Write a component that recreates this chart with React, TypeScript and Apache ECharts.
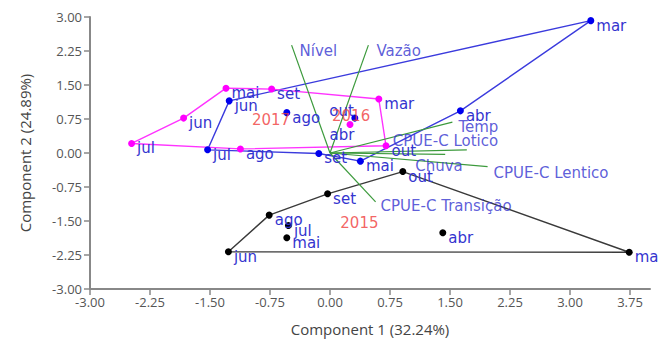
import React, { useEffect, useRef } from 'react';
import * as echarts from 'echarts';

// Month observations (same order for every year)
const months = ['mar', 'abr', 'mai', 'jun', 'jul', 'ago', 'set', 'out'];

// 2015 (black)
const x2015 = [3.74, 1.41, -0.54, -1.27, -0.52, -0.76, -0.03, 0.91];
const y2015 = [-2.19, -1.76, -1.87, -2.18, -1.6, -1.37, -0.9, -0.41];
const hull2015 = ['jun', 'ago', 'set', 'out', 'mar', 'jun'];

// 2016 (blue)
const x2016 = [3.26, 1.63, 0.38, -1.26, -1.53, -0.54, -0.14, 0.31];
const y2016 = [2.92, 0.93, -0.18, 1.15, 0.07, 0.89, -0.01, 0.77];
const hull2016 = ['jul', 'jun', 'mar', 'abr', 'mai', 'set', 'jul'];

// 2017 (magenta)
const x2017 = [0.61, 0.25, -1.3, -1.83, -2.48, -1.12, -0.73, 0.7];
const y2017 = [1.19, 0.63, 1.43, 0.77, 0.21, 0.09, 1.41, 0.16];
const hull2017 = ['jul', 'jun', 'mai', 'set', 'mar', 'out', 'ago', 'jul'];

// Variable loadings (biplot vectors)
const varNames = ['Nível', 'Vazão', 'Temp', 'CPUE-C Lotico', 'Chuva', 'CPUE-C Lentico', 'CPUE-C Transição'];
const varX = [-0.48, 0.48, 1.53, 1.71, 1.44, 1.97, 0.57];
const varY = [2.38, 2.38, 0.68, 0.07, -0.03, -0.3, -1.08];

// Axis ticks
const xTicks = [-3, -2.25, -1.5, -0.75, 0, 0.75, 1.5, 2.25, 3, 3.75];
const yTicks = [-3, -2.25, -1.5, -0.75, 0, 0.75, 1.5, 2.25, 3];

// label placement tweaks (px)
const varLabelOffsets: number[][] = [[8, 6], [8, 6], [6, 5], [-74, -9], [-30, 12], [6, 6.5], [5, 4]];
const pointLabelShift: Record<string, number[]> = {
  '2016-out': [-31, -7],
  '2017-abr': [-26, 10.7],
};

const TEXT_BLUE = '#3434cf';
const FONT = 'DejaVu Sans';

export default function App() {
  const ref = useRef<HTMLDivElement>(null);

  useEffect(() => {
    const chart = echarts.init(ref.current!, null, { renderer: 'svg' });

    const groups = [
      { year: '2015', xs: x2015, ys: y2015, hull: hull2015, dot: '#000000', line: '#3a3a3a' },
      { year: '2016', xs: x2016, ys: y2016, hull: hull2016, dot: '#0000ee', line: '#3b3bdd' },
      { year: '2017', xs: x2017, ys: y2017, hull: hull2017, dot: '#ff00ff', line: '#ff33ff' },
    ];

    const series: any[] = [];

    groups.forEach((g) => {
      series.push({
        type: 'line',
        data: g.hull.map((m) => {
          const i = months.indexOf(m);
          return [g.xs[i], g.ys[i]];
        }),
        showSymbol: false,
        symbol: 'none',
        lineStyle: { color: g.line, width: 1.4 },
        z: 2,
        silent: true,
      });
    });

    series.push({
      type: 'lines',
      coordinateSystem: 'cartesian2d',
      data: varNames.map((n, i) => ({ coords: [[0, 0], [varX[i], varY[i]]] })),
      lineStyle: { color: '#3c9a3c', width: 1.2, opacity: 1 },
      z: 3,
      silent: true,
    });

    groups.forEach((g) => {
      series.push({
        type: 'scatter',
        symbolSize: 7,
        itemStyle: { color: g.dot, opacity: 1 },
        z: 5,
        data: months.map((m, i) => {
          const sh = pointLabelShift[g.year + '-' + m] || [0, 5];
          return { name: m, value: [g.xs[i], g.ys[i]], label: { offset: sh } };
        }),
        label: {
          show: true,
          position: 'right',
          distance: 2,
          formatter: (p: any) => p.name,
          color: TEXT_BLUE,
          fontFamily: FONT,
          fontSize: 15,
        },
      });
    });

    // year labels at group centroids
    series.push({
      type: 'scatter',
      symbolSize: 0,
      z: 6,
      data: groups.map((g) => {
        const cx = g.xs.reduce((a, b) => a + b, 0) / g.xs.length;
        const cy = g.ys.reduce((a, b) => a + b, 0) / g.ys.length;
        return { name: g.year, value: [cx, cy] };
      }),
      label: {
        show: true,
        position: 'inside',
        formatter: (p: any) => p.name,
        color: '#f03c3c',
        fontFamily: FONT,
        fontSize: 15,
      },
    });

    // variable labels
    series.push({
      type: 'scatter',
      symbolSize: 0,
      z: 6,
      data: varNames.map((n, i) => ({
        name: n,
        value: [varX[i], varY[i]],
        label: { offset: varLabelOffsets[i] },
      })),
      label: {
        show: true,
        position: 'right',
        distance: 0,
        formatter: (p: any) => p.name,
        color: TEXT_BLUE,
        fontFamily: FONT,
        fontSize: 15,
      },
    });

    chart.setOption({
      animation: false,
      backgroundColor: '#ffffff',
      grid: { left: 90, right: 9, top: 17, bottom: 55 },
      xAxis: {
        type: 'value',
        min: -3,
        max: 4,
        interval: 0.75,
        name: 'Component 1 (32.24%)',
        nameLocation: 'middle',
        nameGap: 32,
        nameTextStyle: { color: '#444', fontFamily: 'Open Sans', fontSize: 15 },
        axisLine: { show: true, onZero: false, lineStyle: { color: '#888', width: 2 } },
        axisTick: { show: true, length: 6, customValues: xTicks, lineStyle: { color: '#888', width: 1.5 } },
        axisLabel: {
          customValues: xTicks,
          formatter: (v: number) => v.toFixed(2),
          color: '#555',
          fontFamily: 'Open Sans',
          fontSize: 13,
          margin: 6,
        },
        splitLine: { show: false },
      },
      yAxis: {
        type: 'value',
        min: -3,
        max: 3,
        interval: 0.75,
        name: 'Component 2 (24.89%)',
        nameLocation: 'middle',
        nameGap: 58,
        nameTextStyle: { color: '#444', fontFamily: 'Open Sans', fontSize: 15 },
        axisLine: { show: true, onZero: false, lineStyle: { color: '#888', width: 2 } },
        axisTick: { show: true, length: 6, customValues: yTicks, lineStyle: { color: '#888', width: 1.5 } },
        axisLabel: {
          customValues: yTicks,
          formatter: (v: number) => v.toFixed(2),
          color: '#555',
          fontFamily: 'Open Sans',
          fontSize: 13,
          margin: 8,
        },
        splitLine: { show: false },
      },
      series,
    });

    return () => chart.dispose();
  }, []);

  return (
    <div
      ref={ref}
      style={{ position: 'fixed', left: 0, top: 0, width: 659, height: 344, background: '#fff' }}
    />
  );
}
